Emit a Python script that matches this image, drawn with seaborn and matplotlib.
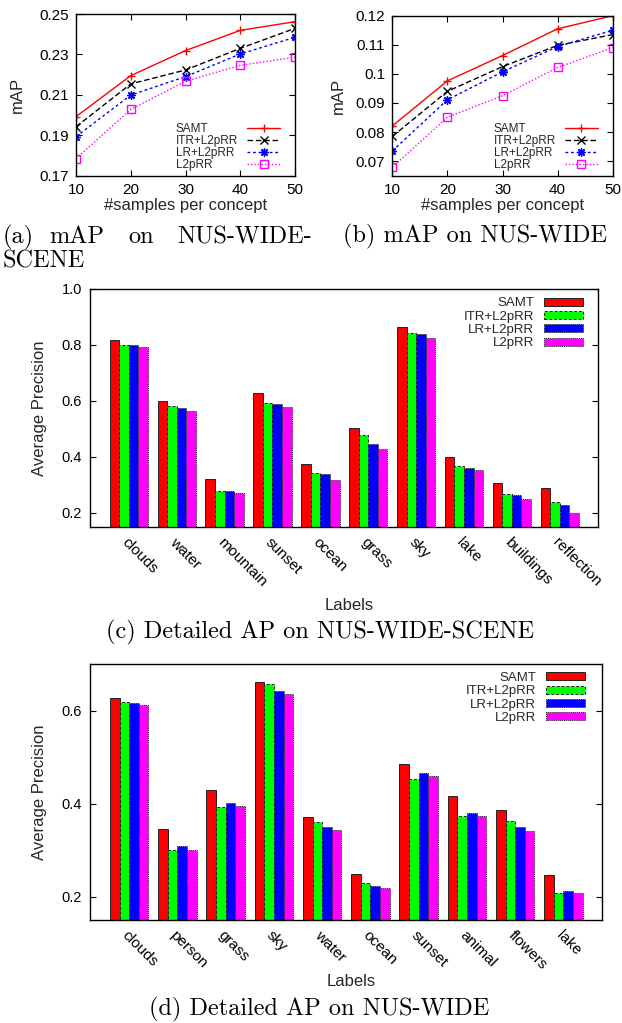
import numpy as np
import pandas as pd
import matplotlib
matplotlib.use("Agg")
import matplotlib.pyplot as plt
import seaborn as sns
from matplotlib.lines import Line2D
from matplotlib.patches import Patch

# ---------------- data ----------------
methods = ["SAMT", "ITR+L2pRR", "LR+L2pRR", "L2pRR"]
samples = [10, 20, 30, 40, 50]

scene_map_samt = [0.1992, 0.2195, 0.2319, 0.2419, 0.2462]
scene_map_itr = [0.1942, 0.2154, 0.2223, 0.2330, 0.2429]
scene_map_lr = [0.1893, 0.2099, 0.2190, 0.2302, 0.2385]
scene_map_l2 = [0.1784, 0.2028, 0.2167, 0.2246, 0.2286]

wide_map_samt = [0.0821, 0.0976, 0.1063, 0.1155, 0.1200]
wide_map_itr = [0.0785, 0.0940, 0.1025, 0.1098, 0.1135]
wide_map_lr = [0.0735, 0.0911, 0.1007, 0.1094, 0.1150]
wide_map_l2 = [0.0679, 0.0851, 0.0925, 0.1022, 0.1090]

scene_labels = ["clouds", "water", "mountain", "sunset", "ocean", "grass",
                "sky", "lake", "buildings", "reflection"]
scene_ap_samt = [0.817, 0.599, 0.321, 0.627, 0.374, 0.502, 0.866, 0.401, 0.307, 0.288]
scene_ap_itr = [0.799, 0.581, 0.280, 0.593, 0.344, 0.477, 0.842, 0.368, 0.267, 0.241]
scene_ap_lr = [0.799, 0.575, 0.277, 0.588, 0.338, 0.446, 0.839, 0.359, 0.266, 0.230]
scene_ap_l2 = [0.792, 0.563, 0.271, 0.578, 0.319, 0.427, 0.824, 0.355, 0.251, 0.201]

wide_labels = ["clouds", "person", "grass", "sky", "water", "ocean",
               "sunset", "animal", "flowers", "lake"]
wide_ap_samt = [0.628, 0.345, 0.429, 0.662, 0.372, 0.248, 0.486, 0.416, 0.386, 0.246]
wide_ap_itr = [0.619, 0.301, 0.392, 0.658, 0.360, 0.229, 0.454, 0.374, 0.362, 0.207]
wide_ap_lr = [0.617, 0.308, 0.401, 0.641, 0.349, 0.224, 0.465, 0.379, 0.349, 0.212]
wide_ap_l2 = [0.611, 0.300, 0.394, 0.636, 0.343, 0.219, 0.460, 0.374, 0.341, 0.207]

# ---------------- styles ----------------
line_colors = ["#ff0000", "#000000", "#0000ff", "#ff00ff"]
line_styles = ["-", (0, (4, 2)), (0, (2, 2)), (0, (1, 1.5))]
line_markers = ["+", "x", (8, 2, 0), "s"]
bar_colors = ["#ff0000", "#00ff00", "#0000ff", "#ff00ff"]
bar_edge_styles = ["-", (0, (3, 2)), (0, (1, 1)), (0, (1, 1))]

sns.set_theme(style="white")
plt.rcParams["font.family"] = ["Liberation Sans", "DejaVu Sans"]
plt.rcParams["axes.linewidth"] = 1.0

W, H = 622, 1023
fig = plt.figure(figsize=(W / 100, H / 100), dpi=100)


def add_axes_px(x0, x1, y0, y1):
    return fig.add_axes([x0 / W, 1 - y1 / H, (x1 - x0) / W, (y1 - y0) / H])


def px(x, y):
    return x / W, 1 - y / H


def line_panel(ax, series, ylim, yticks, yfmt, label_x, leg_anchor):
    df = pd.DataFrame({
        "samples": samples * 4,
        "mAP": sum(series, []),
        "method": sum([[m] * len(samples) for m in methods], []),
    })
    for i, m in enumerate(methods):
        sub = df[df["method"] == m]
        sns.lineplot(data=sub, x="samples", y="mAP", ax=ax, color=line_colors[i],
                     linestyle=line_styles[i], marker=line_markers[i],
                     markersize=6, mfc="none" if i == 3 else line_colors[i],
                     mec=line_colors[i], mew=1.0, linewidth=1.0, legend=False)
    ax.set_xlim(10, 50)
    ax.set_ylim(*ylim)
    ax.set_xticks(samples)
    ax.set_yticks(yticks)
    ax.set_yticklabels([yfmt(v) for v in yticks])
    ax.tick_params(direction="in", length=4, width=0.8, labelsize=11, pad=5,
                   top=True, right=True, bottom=True, left=True, colors="black")
    ax.set_xlabel("#samples per concept", fontsize=12)
    ax.set_ylabel("mAP", fontsize=12)
    ax.xaxis.set_label_coords(0.5, -0.14)
    ax.yaxis.set_label_coords(label_x, 0.5)
    for s in ax.spines.values():
        s.set_color("black")
    # legend: text column (left aligned) + handle column
    blank = [Line2D([], [], linestyle="none") for _ in methods]
    real = [Line2D([], [], color=line_colors[i], linestyle=line_styles[i],
                   marker=line_markers[i], markersize=6,
                   mfc="none" if i == 3 else line_colors[i], mec=line_colors[i],
                   linewidth=1.0) for i in range(4)]
    ax.legend(blank + real, methods + [""] * 4, ncol=2, loc="lower right",
              bbox_to_anchor=leg_anchor, frameon=False, fontsize=8.5,
              handlelength=2.8, handletextpad=0.0, columnspacing=0.76,
              labelspacing=0.0, borderpad=0.0, borderaxespad=0.0)


def bar_panel(ax, labels, series, ylim, yticks, leg_anchor, leg_fs, xlab_y):
    df = pd.DataFrame({
        "label": labels * 4,
        "ap": sum(series, []),
        "method": sum([[m] * len(labels) for m in methods], []),
    })
    sns.barplot(data=df, x="label", y="ap", hue="method", order=labels,
                hue_order=methods, palette=bar_colors, saturation=1,
                width=0.8, errorbar=None, ax=ax, legend=False)
    for i, cont in enumerate(ax.containers):
        for p in cont.patches:
            p.set_edgecolor("#222222")
            p.set_linewidth(0.7)
            p.set_linestyle(bar_edge_styles[i])
    ax.set_xlim(-0.806, 9.80)
    ax.set_ylim(*ylim)
    ax.set_yticks(yticks)
    ax.set_yticklabels([f"{v:.1f}" for v in yticks])
    ax.set_xticks(range(len(labels)))
    ax.set_xticklabels(labels, rotation=-45, ha="left", va="top",
                       rotation_mode="anchor")
    ax.tick_params(axis="x", length=0, labelsize=11, pad=6, colors="black")
    ax.tick_params(axis="y", direction="in", length=4, width=0.8, labelsize=10.5,
                   pad=6, left=True, right=True, colors="black")
    ax.set_xlabel("Labels", fontsize=12)
    ax.set_ylabel("Average Precision", fontsize=12)
    ax.xaxis.set_label_coords(0.51, xlab_y)
    ax.yaxis.set_label_coords(-0.085, 0.5)
    for s in ax.spines.values():
        s.set_color("black")
    handles = [Patch(facecolor=bar_colors[i], edgecolor="#222222",
                     linewidth=0.7, linestyle=bar_edge_styles[i]) for i in range(4)]
    ax.legend(handles, methods, loc="upper right", bbox_to_anchor=leg_anchor,
              frameon=False, fontsize=leg_fs, markerfirst=False,
              handlelength=2.95, handleheight=0.55, handletextpad=0.75,
              labelspacing=0.1, borderpad=0.0, borderaxespad=0.0)


# (a)
ax_a = add_axes_px(76, 295, 14, 175.7)
line_panel(ax_a, [scene_map_samt, scene_map_itr, scene_map_lr, scene_map_l2],
           (0.17, 0.25), [0.17, 0.19, 0.21, 0.23, 0.25], lambda v: f"{v:.2f}",
           -0.235, (0.932, 0.028))

# (b)
ax_b = add_axes_px(392.3, 612.7, 15.7, 175.7)
line_panel(ax_b, [wide_map_samt, wide_map_itr, wide_map_lr, wide_map_l2],
           (0.065, 0.12), [0.07, 0.08, 0.09, 0.10, 0.11, 0.12],
           lambda v: "0.1" if abs(v - 0.1) < 1e-9 else f"{v:.2f}",
           -0.21, (0.933, 0.028))

# (c)
ax_c = add_axes_px(90.3, 598, 289, 527)
bar_panel(ax_c, scene_labels, [scene_ap_samt, scene_ap_itr, scene_ap_lr, scene_ap_l2],
          (0.15, 1.0), [0.2, 0.4, 0.6, 0.8, 1.0], (0.970, 0.965), 9.5, -0.30)

# (d)
ax_d = add_axes_px(90.3, 602, 664, 920)
bar_panel(ax_d, wide_labels, [wide_ap_samt, wide_ap_itr, wide_ap_lr, wide_ap_l2],
          (0.15, 0.70), [0.2, 0.4, 0.6], (0.967, 0.969), 9.5, -0.21)

# captions (LaTeX-like serif)
cap = dict(fontfamily="cmr10", fontsize=17.5, color="black")
for word, x in [("(a)", 3), ("mAP", 49), ("on", 128), ("NUS-WIDE-", 177)]:
    fig.text(*px(x, 243), word, ha="left", va="baseline", **cap)
fig.text(*px(3, 268), "SCENE", ha="left", va="baseline", **cap)
fig.text(*px(475.5, 242), "(b) mAP on NUS-WIDE", ha="center", va="baseline", **cap)
fig.text(*px(320, 638), "(c) Detailed AP on NUS-WIDE-SCENE", ha="center",
         va="baseline", **cap)
fig.text(*px(319, 1015), "(d) Detailed AP on NUS-WIDE", ha="center",
         va="baseline", **cap)

fig.savefig("out.png", dpi=100)
